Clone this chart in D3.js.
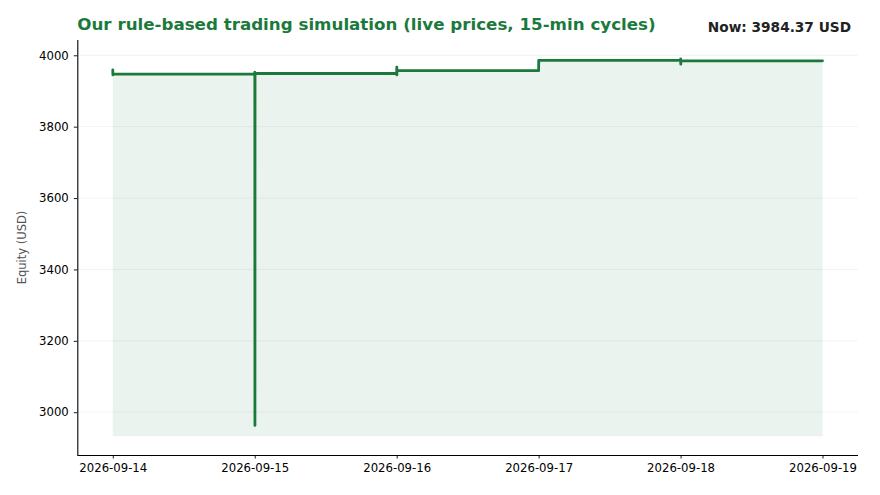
<!DOCTYPE html>
<html>
<head>
<meta charset="utf-8">
<script src="https://cdn.jsdelivr.net/npm/d3@7/dist/d3.min.js"></script>
<style>
  html, body { margin: 0; padding: 0; background: #fff; }
  svg { display: block; font-family: "DejaVu Sans", sans-serif; }
</style>
</head>
<body>
<svg id="chart" width="880" height="495"></svg>
<script>
// ---- data ----
const times = [
  "2026-09-14T00:00", "2026-09-14T00:01", "2026-09-14T00:02",
  "2026-09-15T00:00", "2026-09-15T00:01", "2026-09-15T00:02", "2026-09-15T00:03",
  "2026-09-16T00:00", "2026-09-16T00:01", "2026-09-16T00:02", "2026-09-16T00:03",
  "2026-09-17T00:00", "2026-09-17T00:01",
  "2026-09-18T00:00", "2026-09-18T00:01", "2026-09-18T00:02", "2026-09-18T00:03",
  "2026-09-19T00:00"
];
const equity = [
  3959, 3945, 3947,
  3947, 3953, 2963, 3949,
  3949, 3967, 3945, 3957,
  3957, 3986,
  3986, 3990, 3975, 3984.37,
  3984.37
];
const yTicks = [3000, 3200, 3400, 3600, 3800, 4000];
const xTickLabels = ["2026-09-14", "2026-09-15", "2026-09-16", "2026-09-17", "2026-09-18", "2026-09-19"];
const fillBase = 2933;
const titleText = "Our rule-based trading simulation (live prices, 15-min cycles)";
const nowText = "Now: 3984.37 USD";
const yLabel = "Equity (USD)";

// ---- layout ----
const svg = d3.select("#chart");
const m = { left: 77.3, right: 858, top: 40, bottom: 455 };
const parse = d3.timeParse("%Y-%m-%dT%H:%M");
const parseDay = d3.timeParse("%Y-%m-%d");
const data = times.map((t, i) => ({ t: parse(t), v: equity[i] }));

const t0 = parseDay(xTickLabels[0]), t1 = parseDay(xTickLabels[xTickLabels.length - 1]);
const span = t1 - t0;
const x = d3.scaleTime()
  .domain([new Date(+t0 - span * 0.05), new Date(+t1 + span * 0.05)])
  .range([m.left, m.right]);
const yMin = fillBase, yMax = d3.max(equity);
const yr = yMax - yMin;
const y = d3.scaleLinear()
  .domain([yMin - yr * 0.05, yMax + yr * 0.05])
  .range([m.bottom, m.top]);

// grid
svg.append("g")
  .selectAll("line").data(yTicks).join("line")
  .attr("x1", m.left).attr("x2", m.right)
  .attr("y1", d => y(d)).attr("y2", d => y(d))
  .attr("stroke", "#f0f0f0").attr("stroke-width", 0.8);

// area
const area = d3.area().x(d => x(d.t)).y0(y(fillBase)).y1(d => y(d.v));
svg.append("path").datum(data)
  .attr("d", area)
  .attr("fill", "#1a7a3a").attr("fill-opacity", 0.09);

// line
const line = d3.line().x(d => x(d.t)).y(d => y(d.v));
svg.append("path").datum(data)
  .attr("d", line)
  .attr("fill", "none")
  .attr("stroke", "#1b7a3b")
  .attr("stroke-width", 2.8)
  .attr("stroke-linejoin", "round")
  .attr("stroke-linecap", "round");

// axes
const xAxis = d3.axisBottom(x)
  .tickValues(xTickLabels.map(parseDay))
  .tickFormat(d3.timeFormat("%Y-%m-%d"))
  .tickSize(3.5).tickPadding(5);
const gx = svg.append("g").attr("transform", `translate(0,${m.bottom})`).call(xAxis);
const yAxis = d3.axisLeft(y).tickValues(yTicks).tickFormat(d3.format("d")).tickSize(3.5).tickPadding(5);
const gy = svg.append("g").attr("transform", `translate(${m.left},0)`).call(yAxis);

[gx, gy].forEach(g => {
  g.select(".domain").attr("stroke", "#000").attr("stroke-width", 1.1);
  g.selectAll(".tick line").attr("stroke", "#000").attr("stroke-width", 0.9);
  g.selectAll(".tick text").attr("fill", "#000")
    .style("font-family", "'DejaVu Sans', sans-serif").style("font-size", "11.7px");
});
gx.select(".domain").attr("d", `M${m.left},0.5H${m.right}`);
gy.select(".domain").attr("d", `M0.5,${m.bottom}V${m.top}`);

// y label
svg.append("text")
  .attr("transform", `translate(26,${(m.top + m.bottom) / 2}) rotate(-90)`)
  .attr("text-anchor", "middle")
  .attr("fill", "#555")
  .style("font-size", "11.5px")
  .text(yLabel);

// title
svg.append("text")
  .attr("x", m.left).attr("y", 30)
  .attr("fill", "#1b7a3b")
  .style("font-size", "16.7px").style("font-weight", "bold")
  .text(titleText);

svg.append("text")
  .attr("x", 851).attr("y", 32)
  .attr("text-anchor", "end")
  .attr("fill", "#222")
  .style("font-size", "13.7px").style("font-weight", "bold")
  .text(nowText);
</script>
</body>
</html>
